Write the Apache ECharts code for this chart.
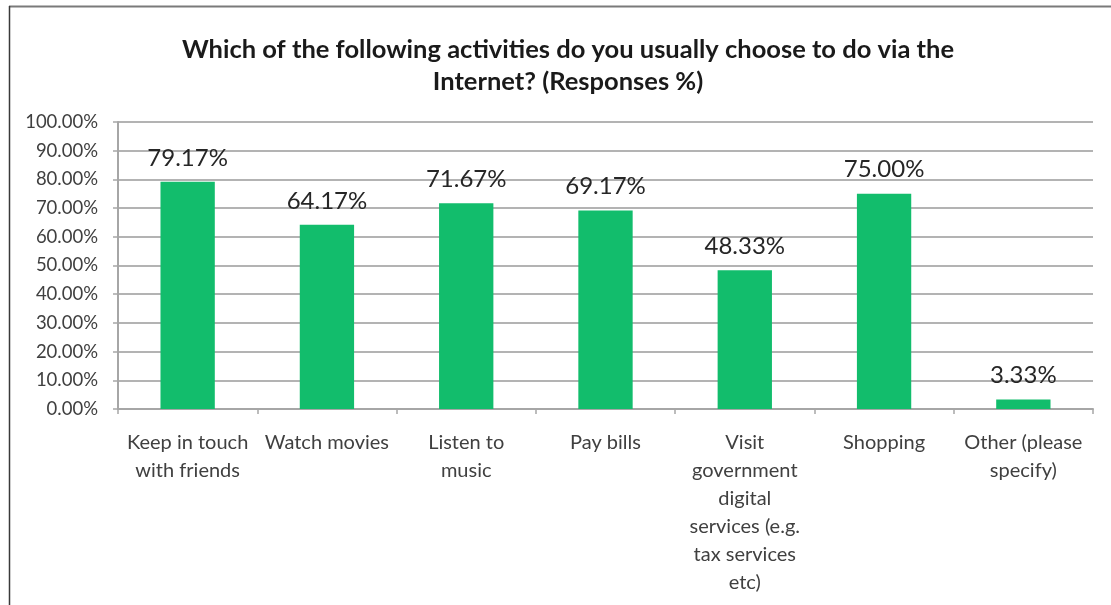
<!DOCTYPE html>
<html>
<head>
<meta charset="utf-8">
<script src="https://cdn.jsdelivr.net/npm/echarts@6/dist/echarts.min.js"></script>
<style>
html,body{margin:0;padding:0;background:#fff;}
#chart{width:1111px;height:605px;}
</style>
</head>
<body>
<div id="chart"></div>
<script>
const titleText = "Which of the following activities do you usually choose to do via the\nInternet? (Responses %)";
const categories = [
  "Keep in touch\nwith friends",
  "Watch movies",
  "Listen to\nmusic",
  "Pay bills",
  "Visit\ngovernment\ndigital\nservices (e.g.\ntax services\netc)",
  "Shopping",
  "Other (please\nspecify)"
];
const responses = [79.17, 64.17, 71.67, 69.17, 48.33, 75.00, 3.33];
const yTicks = { min: 0, max: 100, interval: 10 };

const chart = echarts.init(document.getElementById('chart'), null, {renderer: 'canvas'});
const font = 'Lato, "Open Sans", sans-serif';
chart.setOption({
  animation: false,
  backgroundColor: '#ffffff',
  title: {
    text: titleText,
    left: 563, top: 29, textAlign: 'center',
    textStyle: { fontFamily: font, fontSize: 25.5, fontWeight: 'bold', color: '#1a1a1a', lineHeight: 32 }
  },
  graphic: [
    { type: 'line', shape: { x1: 9, y1: 6.5, x2: 1111, y2: 6.5 }, style: { stroke: '#7a7a7a', lineWidth: 2 }, silent: true },
    { type: 'line', shape: { x1: 9.5, y1: 6, x2: 9.5, y2: 605 }, style: { stroke: '#3a3a3a', lineWidth: 1.5 }, silent: true }
  ],
  grid: { left: 118, right: 18, top: 122, bottom: 196, containLabel: false },
  xAxis: {
    type: 'category',
    data: categories,
    axisLine: { lineStyle: { color: '#a6a6a6', width: 2 } },
    axisTick: { show: true, alignWithLabel: false, length: 5, lineStyle: { color: '#a6a6a6', width: 1.5 } },
    axisLabel: { interval: 0, margin: 20, fontFamily: font, fontSize: 20, lineHeight: 28, color: '#404040', align: 'center' }
  },
  yAxis: {
    type: 'value',
    min: yTicks.min, max: yTicks.max, interval: yTicks.interval,
    axisLine: { show: true, lineStyle: { color: '#a6a6a6', width: 2 } },
    axisTick: { show: true, length: 5, lineStyle: { color: '#a6a6a6', width: 1.5 } },
    splitLine: { show: true, lineStyle: { color: '#b3b3b3', width: 2 } },
    axisLabel: { margin: 20, fontFamily: font, fontSize: 18.5, color: '#404040', formatter: v => v.toFixed(2) + '%' }
  },
  series: [{
    type: 'bar',
    data: responses,
    barWidth: '39%',
    itemStyle: { color: '#12bd6c' },
    label: {
      show: true, position: 'top', distance: 12,
      fontFamily: font, fontSize: 24, color: '#262626',
      formatter: p => p.value.toFixed(2) + '%'
    }
  }]
});
</script>
</body>
</html>
